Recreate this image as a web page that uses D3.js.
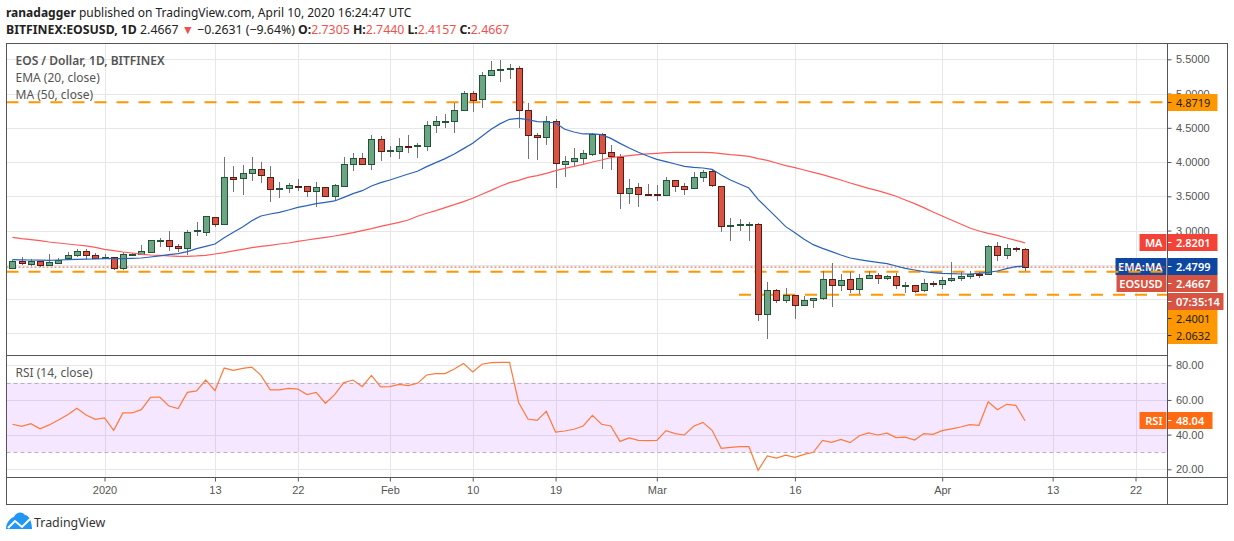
<!DOCTYPE html>
<html>
<head>
<meta charset="utf-8">
<script src="https://cdn.jsdelivr.net/npm/d3@7/dist/d3.min.js"></script>
<style>
  html, body { margin: 0; padding: 0; background: #fff; }
  svg { display: block; font-family: "Noto Sans", sans-serif; }
  .tick text { fill: #555; font-size: 11px; }
  .tick line { stroke: #555; }
</style>
</head>
<body>
<svg id="chart" width="1234" height="541"></svg>
<script>
var start_date = "2019-12-22";

var opens = [
  2.449,2.551,2.517,2.551,2.487,2.531,2.590,2.633,2.697,2.638,
  2.590,2.609,2.453,2.643,2.658,2.682,2.857,2.857,2.770,2.741,
  2.989,2.989,3.203,3.105,3.787,3.762,3.835,3.894,3.787,3.612,
  3.612,3.646,3.646,3.568,3.631,3.500,3.646,3.967,4.054,3.967,
  4.332,4.157,4.157,4.230,4.230,4.230,4.536,4.590,4.595,4.755,
  5.003,4.916,5.266,5.334,5.349,5.368,4.755,4.390,4.361,4.595,
  3.967,4.011,4.054,4.113,4.405,4.142,4.069,3.543,3.631,3.529,
  3.529,3.514,3.733,3.646,3.616,3.777,3.865,3.646,3.062,3.076,
  3.076,3.091,1.777,2.127,1.981,2.054,1.908,1.981,2.010,2.288,
  2.200,2.288,2.142,2.298,2.346,2.302,2.332,2.195,2.210,2.127,
  2.229,2.215,2.273,2.302,2.332,2.366,2.361,2.770,2.638,2.740,
  2.7305];
var highs = [
  2.570,2.614,2.585,2.551,2.658,2.595,2.687,2.731,2.731,2.672,
  2.653,2.609,2.692,2.672,2.789,2.857,2.896,2.994,2.804,3.008,
  3.125,3.217,3.203,4.069,3.942,3.952,4.069,3.996,3.942,3.709,
  3.689,3.748,3.646,3.709,3.631,3.675,4.069,4.132,4.132,4.395,
  4.376,4.235,4.346,4.395,4.273,4.600,4.672,4.702,4.857,5.033,
  5.033,5.310,5.475,5.490,5.432,5.402,4.857,4.419,4.672,4.624,
  4.084,4.200,4.171,4.419,4.419,4.244,4.113,3.748,3.689,3.675,
  3.660,3.777,3.733,3.689,3.855,3.879,3.879,3.646,3.183,3.169,
  3.125,3.105,2.244,2.142,2.157,2.054,2.040,2.010,2.409,2.521,
  2.361,2.390,2.361,2.405,2.375,2.346,2.375,2.244,2.210,2.288,
  2.259,2.317,2.536,2.395,2.405,2.395,2.784,2.828,2.799,2.755,
  2.7440];
var lows = [
  2.449,2.502,2.487,2.468,2.483,2.512,2.590,2.614,2.580,2.580,
  2.580,2.424,2.424,2.629,2.658,2.682,2.760,2.702,2.687,2.643,
  2.921,2.921,3.052,3.105,3.563,3.524,3.728,3.699,3.422,3.480,
  3.553,3.582,3.490,3.349,3.500,3.427,3.646,3.874,3.967,3.889,
  4.020,4.079,4.050,4.137,4.064,4.166,4.429,4.502,4.429,4.755,
  4.736,4.794,5.266,5.174,5.218,4.502,4.050,4.030,4.254,3.626,
  3.787,3.938,3.967,4.084,3.899,3.884,3.320,3.393,3.349,3.514,
  3.436,3.500,3.568,3.524,3.616,3.714,3.631,2.984,2.852,2.998,
  2.852,1.685,1.422,1.947,1.947,1.714,1.908,1.874,1.981,1.889,
  2.113,2.093,2.074,2.288,2.225,2.273,2.142,2.093,2.093,2.108,
  2.181,2.142,2.254,2.268,2.288,2.312,2.361,2.555,2.590,2.682,
  2.4157];
var closes = [
  2.551,2.517,2.556,2.487,2.536,2.575,2.638,2.697,2.633,2.590,
  2.609,2.453,2.653,2.658,2.697,2.857,2.862,2.770,2.736,2.974,
  3.003,3.217,3.105,3.787,3.762,3.835,3.894,3.806,3.612,3.616,
  3.660,3.641,3.568,3.631,3.500,3.660,3.967,4.054,3.967,4.332,
  4.157,4.171,4.230,4.215,4.244,4.536,4.595,4.600,4.755,5.003,
  4.901,5.266,5.339,5.354,5.368,4.755,4.390,4.361,4.595,3.981,
  4.011,4.054,4.127,4.405,4.127,4.084,3.543,3.616,3.529,3.524,
  3.524,3.733,3.646,3.602,3.777,3.850,3.660,3.062,3.076,3.091,
  3.091,1.777,2.127,1.981,2.054,1.908,1.981,2.010,2.288,2.200,
  2.273,2.142,2.302,2.346,2.302,2.332,2.200,2.200,2.127,2.229,
  2.215,2.273,2.302,2.332,2.361,2.361,2.770,2.638,2.740,2.726,
  2.4667];
var ema20 = [
  2.575,2.573,2.570,2.568,2.565,2.570,2.575,2.580,2.582,2.585,
  2.590,2.590,2.590,2.595,2.599,2.614,2.629,2.648,2.663,2.692,
  2.736,2.770,2.804,2.896,2.974,3.052,3.144,3.213,3.242,3.266,
  3.300,3.339,3.363,3.393,3.412,3.432,3.485,3.539,3.582,3.651,
  3.699,3.738,3.782,3.826,3.865,3.933,3.991,4.050,4.118,4.196,
  4.274,4.376,4.478,4.561,4.624,4.638,4.619,4.590,4.585,4.570,
  4.478,4.439,4.410,4.410,4.400,4.346,4.273,4.205,4.142,4.088,
  4.040,4.006,3.972,3.938,3.923,3.913,3.894,3.811,3.738,3.680,
  3.621,3.456,3.324,3.193,3.057,2.969,2.872,2.794,2.740,2.692,
  2.643,2.599,2.575,2.555,2.536,2.517,2.482,2.448,2.424,2.400,
  2.385,2.375,2.370,2.366,2.366,2.375,2.390,2.409,2.444,2.473,
  2.4799];
var ma50 = [
  2.901,2.882,2.867,2.852,2.833,2.818,2.804,2.789,2.775,2.755,
  2.726,2.706,2.687,2.672,2.653,2.643,2.638,2.629,2.624,2.624,
  2.629,2.638,2.658,2.677,2.702,2.726,2.750,2.770,2.784,2.804,
  2.818,2.843,2.862,2.881,2.901,2.920,2.945,2.969,2.998,3.028,
  3.062,3.091,3.120,3.154,3.208,3.252,3.290,3.334,3.378,3.422,
  3.471,3.529,3.587,3.646,3.699,3.733,3.777,3.801,3.835,3.874,
  3.908,3.938,3.967,4.001,4.030,4.064,4.079,4.093,4.108,4.118,
  4.127,4.137,4.142,4.142,4.142,4.142,4.137,4.123,4.108,4.098,
  4.084,4.050,4.025,3.986,3.947,3.918,3.884,3.850,3.816,3.777,
  3.738,3.694,3.655,3.616,3.582,3.543,3.500,3.446,3.393,3.334,
  3.271,3.212,3.154,3.096,3.037,2.993,2.959,2.930,2.891,2.857,
  2.8201];
var rsi14 = [
  46.0,44.8,46.3,43.4,45.6,48.4,51.5,55.2,51.3,48.8,
  49.6,42.5,52.5,52.5,54.4,61.5,61.7,56.5,55.0,64.4,
  65.2,71.5,65.4,78.4,77.1,78.2,79.0,74.2,65.8,65.8,
  66.7,66.3,63.1,64.4,58.1,63.1,70.0,71.5,67.7,74.2,
  67.5,67.7,69.0,68.3,69.6,74.4,75.2,75.2,77.9,81.1,
  76.1,80.6,81.5,81.7,81.7,58.4,49.0,48.2,53.4,41.5,
  42.1,43.1,45.0,51.1,46.0,45.0,36.1,38.1,36.7,36.5,
  36.7,42.3,40.6,39.8,44.8,47.1,42.5,32.1,32.7,33.1,
  33.1,19.4,27.7,26.5,28.2,26.9,28.6,29.8,36.7,35.6,
  37.3,35.4,39.4,41.0,39.8,40.8,38.3,38.6,36.9,40.6,
  40.2,42.3,43.3,44.4,45.8,45.4,59.0,54.4,57.5,56.9,
  48.04];

var time_ticks = ["2020-01-01","2020-01-13","2020-01-22","2020-02-01","2020-02-10","2020-02-19",
                  "2020-03-01","2020-03-16","2020-04-01","2020-04-13","2020-04-22"];
var time_labels = ["2020","13","22","Feb","10","19","Mar","16","Apr","13","22"];
var price_ticks = [5.5,5.0,4.5,4.0,3.5,3.0,2.5,2.0,1.5];
var rsi_ticks = [80,60,40,20];
var level_high = 4.8719, level_mid = 2.4001, level_low = 2.0632;

var candles = d3.range(closes.length).map(function(i) {
  return {
    date: d3.utcDay.offset(new Date(start_date), i),
    open: opens[i], high: highs[i], low: lows[i], close: closes[i],
    ema: ema20[i], ma: ma50[i], rsi: rsi14[i]
  };
});

// chart frame, in px
var left = 6.5, right = 1167.5, outer = 1227.5,
    top_y = 43.5, split_y = 355.5, axis_y = 477.5, bottom_y = 504.5;

var x = d3.scaleUtc()
  .domain([new Date("2020-01-01"), new Date("2020-04-22")])
  .range([104.5, 1135.5]);
var y = d3.scaleLinear().domain([5.5, 1.5]).range([59.3, 333.3]);
var y_rsi = d3.scaleLinear().domain([80, 20]).range([365.3, 469.3]);

var svg = d3.select("#chart");

// grid
var grid = svg.append("g").attr("stroke", "#e7e7e7").attr("shape-rendering", "crispEdges");
function hline(g, yy, x1, x2) {
  return g.append("line").attr("x1", x1).attr("x2", x2).attr("y1", yy).attr("y2", yy);
}
price_ticks.forEach(function(p) { hline(grid, Math.round(y(p)) + 0.5, left, right); });
rsi_ticks.forEach(function(v) { hline(grid, Math.round(y_rsi(v)) + 0.5, left, right); });
time_ticks.forEach(function(d) {
  var xx = Math.round(x(new Date(d))) + 0.5;
  grid.append("line").attr("x1", xx).attr("x2", xx).attr("y1", top_y).attr("y2", axis_y);
});

// rsi band
svg.append("rect")
  .attr("x", left).attr("width", right - left)
  .attr("y", y_rsi(70)).attr("height", y_rsi(30) - y_rsi(70))
  .attr("fill", "#9915ff").attr("fill-opacity", 0.1);
[70, 30].forEach(function(v) {
  hline(svg, Math.round(y_rsi(v)) + 0.5, left, right)
    .attr("stroke", "#b8b0bc").attr("stroke-dasharray", "4,3");
});

// labels left of the price axis sit under the level lines
function axis_tag(label, value, top, color, width, text_color) {
  var g = svg.append("g");
  if (label) {
    var w = label.width;
    g.append("rect").attr("x", right - 1 - w).attr("y", top).attr("width", w).attr("height", 17).attr("fill", color);
    g.append("text").attr("x", right - 5).attr("y", top + 12.5).attr("text-anchor", "end")
      .attr("fill", "#fff").attr("font-size", 11).attr("font-weight", 600).text(label.text);
  }
  g.append("rect").attr("x", right).attr("y", top).attr("width", width).attr("height", 17).attr("fill", color);
  g.append("line").attr("x1", right).attr("x2", right + 4)
    .attr("y1", top + 8.5).attr("y2", top + 8.5).attr("stroke", text_color == "#fff" ? "#fff" : "#333");
  g.append("text").attr("x", right + 8.5).attr("y", top + 12.5)
    .attr("fill", text_color).attr("font-size", 11).attr("font-weight", text_color == "#fff" ? 600 : 400).text(value);
}

// axes, the low price ticks have no text since the tags cover them
var price_axis = d3.axisRight(y).tickValues(price_ticks).tickSize(4).tickPadding(4.5)
  .tickFormat(function(d) { return d < 3 ? "" : d3.format(".4f")(d); });
svg.append("g").attr("transform", "translate(" + right + ",0)").call(price_axis)
  .call(function(g) { g.select(".domain").remove(); });
var rsi_axis = d3.axisRight(y_rsi).tickValues(rsi_ticks).tickSize(4).tickPadding(4.5)
  .tickFormat(function(d) { return d3.format(".2f")(d); });
svg.append("g").attr("transform", "translate(" + right + ",0)").call(rsi_axis)
  .call(function(g) { g.select(".domain").remove(); });
var time_axis = d3.axisBottom(x).tickSize(4).tickPadding(5)
  .tickValues(time_ticks.map(function(d) { return new Date(d); }))
  .tickFormat(function(d, i) { return time_labels[i]; });
svg.append("g").attr("transform", "translate(0," + axis_y + ")").call(time_axis)
  .call(function(g) { g.select(".domain").remove(); });

axis_tag({text: "MA", width: 27}, d3.format(".4f")(ma50[ma50.length - 1]), 234, "#f44336", 50, "#fff");
axis_tag({text: "EMA:MA", width: 51}, d3.format(".4f")(ema20[ema20.length - 1]), 258, "#0d47a1", 50, "#fff");
axis_tag({text: "EOSUSD", width: 50}, d3.format(".4f")(closes[closes.length - 1]), 275, "#d75442", 50, "#fff");
axis_tag(null, d3.format(".4f")(level_high), 94, "#ff9800", 50, "#222");
axis_tag(null, d3.format(".4f")(level_mid), 310, "#ff9800", 50, "#222");
axis_tag(null, d3.format(".4f")(level_low), 327, "#ff9800", 50, "#222");
axis_tag(null, "07:35:14", 293, "#d75442", 56, "#fff");
axis_tag({text: "RSI", width: 27}, d3.format(".2f")(rsi14[rsi14.length - 1]), 412, "#ff6a13", 45, "#fff");

// horizontal levels
function level(value, x1) {
  hline(svg, y(value), x1, right)
    .attr("stroke", "#ff9800").attr("stroke-width", 2).attr("stroke-dasharray", "12,10");
}
level(level_high, left);
level(level_mid, left);
level(level_low, 739);

// last price line
hline(svg, y(closes[closes.length - 1]), left, right)
  .attr("stroke", "#d75442").attr("stroke-dasharray", "2,2");

// candles
var candle = svg.append("g").attr("shape-rendering", "crispEdges")
  .selectAll("g").data(candles).enter().append("g");

candle.append("line")
  .attr("x1", function(d) { return Math.round(x(d.date)) + 0.5; })
  .attr("x2", function(d) { return Math.round(x(d.date)) + 0.5; })
  .attr("y1", function(d) { return y(d.high); })
  .attr("y2", function(d) { return y(d.low); })
  .attr("stroke", "#737375");

candle.append("rect")
  .attr("x", function(d) { return Math.round(x(d.date)) - 2.5; })
  .attr("width", 6)
  .attr("y", function(d) { return Math.round(y(Math.max(d.open, d.close))) + 0.5; })
  .attr("height", function(d) { return Math.max(1, Math.round(Math.abs(y(d.open) - y(d.close)))); })
  .attr("fill", function(d) { return d.close >= d.open ? "#6ba583" : "#d75442"; })
  .attr("stroke", function(d) { return d.close >= d.open ? "#225437" : "#5b1a13"; });

// moving averages and rsi
function draw_line(y_scale, key, color, width) {
  svg.append("path").datum(candles)
    .attr("fill", "none").attr("stroke", color).attr("stroke-width", width)
    .attr("d", d3.line()
      .x(function(d) { return x(d.date); })
      .y(function(d) { return y_scale(d[key]); }));
}
draw_line(y, "ma", "#ff5a5a", 1.2);
draw_line(y, "ema", "#2a62b8", 1.2);
draw_line(y_rsi, "rsi", "#ff7a3a", 1.2);

// frame
var frame = svg.append("g").attr("stroke", "#555").attr("fill", "none").attr("shape-rendering", "crispEdges");
frame.append("rect").attr("x", left).attr("y", top_y).attr("width", outer - left).attr("height", bottom_y - top_y);
hline(frame, split_y, left, right);
hline(frame, axis_y, left, outer);
frame.append("line").attr("x1", right).attr("x2", right).attr("y1", top_y).attr("y2", bottom_y);

// header
var head = svg.append("g").attr("fill", "#222");
var line1 = head.append("text").attr("x", 6).attr("y", 17).attr("font-size", 12);
line1.append("tspan").attr("font-weight", 700).text("ranadagger");
line1.append("tspan").text(" published on TradingView.com, April 10, 2020 16:24:47 UTC");

var line2 = head.append("text").attr("x", 6).attr("y", 34).attr("font-size", 12.3);
line2.append("tspan").attr("font-weight", 700).text("BITFINEX:EOSUSD, 1D");
line2.append("tspan").text("  2.4667 ");
line2.append("tspan").attr("fill", "#f0514e").text("▼");
line2.append("tspan").text(" −0.2631 (−9.64%) ");
[["O:", "2.7305"], ["H:", "2.7440"], ["L:", "2.4157"], ["C:", "2.4667"]].forEach(function(p, i) {
  line2.append("tspan").attr("font-weight", 700).text((i ? " " : "") + p[0]);
  line2.append("tspan").attr("fill", "#f0514e").text(p[1]);
});

// pane legends
var legend = svg.append("g").attr("fill", "#555").attr("font-size", 12);
legend.append("text").attr("x", 15.5).attr("y", 65).attr("font-weight", 600).text("EOS / Dollar, 1D, BITFINEX");
legend.append("text").attr("x", 15.5).attr("y", 82).text("EMA (20, close)");
legend.append("text").attr("x", 15.5).attr("y", 99).text("MA (50, close)");
legend.append("text").attr("x", 15.5).attr("y", 377).text("RSI (14, close)");

// tradingview mark
svg.append("path")
  .attr("d", "M6 529 C6 523 10 518 14 517 C16 512 22 511 25 515 C29 515 32 522 32 529 Z")
  .attr("fill", "#2196f3");
svg.append("path")
  .attr("d", "M8 528 L15 521 L22 527 L30 519")
  .attr("fill", "none").attr("stroke", "#fff").attr("stroke-width", 2);
svg.append("text").attr("x", 34).attr("y", 527).attr("fill", "#333").attr("font-size", 12.4).text("TradingView");
</script>
</body>
</html>
